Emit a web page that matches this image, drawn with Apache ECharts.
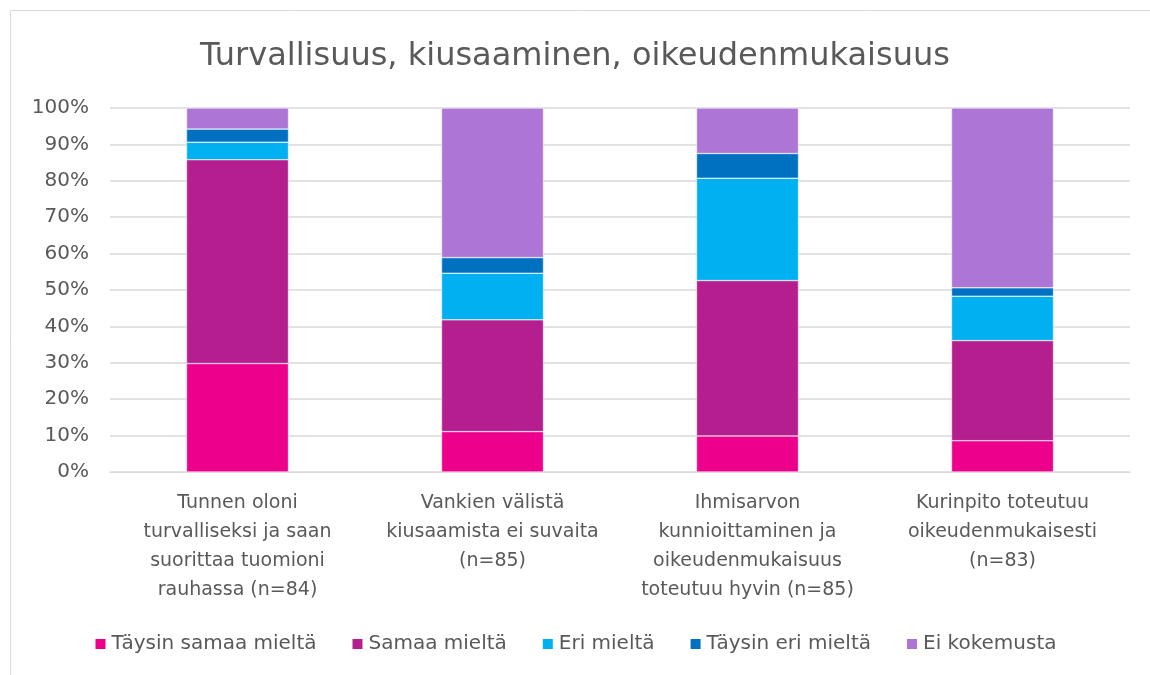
<!DOCTYPE html>
<html>
<head>
<meta charset="utf-8">
<script src="https://cdn.jsdelivr.net/npm/echarts@6/dist/echarts.min.js"></script>
<style>
  html, body { margin: 0; padding: 0; background: #fff; }
  #main { width: 1150px; height: 675px; }
</style>
</head>
<body>
<div id="main"></div>
<script>
// kategoriat ja osuudet (%)
const categories = [
  'Tunnen oloni\nturvalliseksi ja saan\nsuorittaa tuomioni\nrauhassa (n=84)',
  'Vankien välistä\nkiusaamista ei suvaita\n(n=85)',
  'Ihmisarvon\nkunnioittaminen ja\noikeudenmukaisuus\ntoteutuu hyvin (n=85)',
  'Kurinpito toteutuu\noikeudenmukaisesti\n(n=83)'
];
const taysinSamaa = [29.8, 11.1, 9.9, 8.6];
const samaa = [56.0, 30.7, 42.7, 27.5];
const eri = [4.8, 12.8, 28.1, 12.2];
const taysinEri = [3.6, 4.3, 6.8, 2.3];
const eiKokemusta = [5.8, 41.1, 12.5, 49.4];

const seriesNames = ['Täysin samaa mieltä', 'Samaa mieltä', 'Eri mieltä', 'Täysin eri mieltä', 'Ei kokemusta'];
const seriesData = [taysinSamaa, samaa, eri, taysinEri, eiKokemusta];
const colors = ['#EC008C', '#B41E8E', '#00B0F0', '#0070C0', '#AD76D6'];

const font = 'DejaVu Sans';
const chart = echarts.init(document.getElementById('main'));
chart.setOption({
  animation: false,
  textStyle: { fontFamily: font },
  title: {
    text: 'Turvallisuus, kiusaaminen, oikeudenmukaisuus',
    left: 'center',
    top: 36,
    textStyle: { fontFamily: font, fontSize: 32, fontWeight: 'normal', color: '#595959' }
  },
  graphic: [{
    type: 'rect',
    shape: { x: 10.5, y: 10.5, width: 1160, height: 700 },
    style: { fill: 'none', stroke: '#d9d9d9', lineWidth: 1 },
    silent: true
  }],
  legend: {
    bottom: 16,
    left: 'center',
    itemWidth: 12,
    itemHeight: 12,
    itemGap: 34,
    icon: 'rect',
    textStyle: { fontFamily: font, fontSize: 20, color: '#595959' },
    data: seriesNames
  },
  grid: { left: 110, right: 20, top: 108, bottom: 203 },
  xAxis: {
    type: 'category',
    data: categories,
    axisLine: { lineStyle: { color: '#d9d9d9' } },
    axisTick: { show: false },
    axisLabel: {
      interval: 0,
      fontFamily: font,
      fontSize: 19,
      color: '#595959',
      lineHeight: 29,
      margin: 17
    }
  },
  yAxis: {
    type: 'value',
    min: 0,
    max: 100,
    interval: 10,
    axisLabel: {
      formatter: '{value}%',
      fontFamily: font,
      fontSize: 20,
      color: '#595959',
      margin: 21
    },
    splitLine: { lineStyle: { color: '#d9d9d9', width: 1.5 } }
  },
  series: seriesNames.map((name, i) => ({
    name: name,
    type: 'bar',
    stack: 'total',
    barWidth: '40%',
    data: seriesData[i],
    itemStyle: { color: colors[i], borderColor: '#ffffff', borderWidth: 0.5 }
  }))
});
</script>
</body>
</html>
